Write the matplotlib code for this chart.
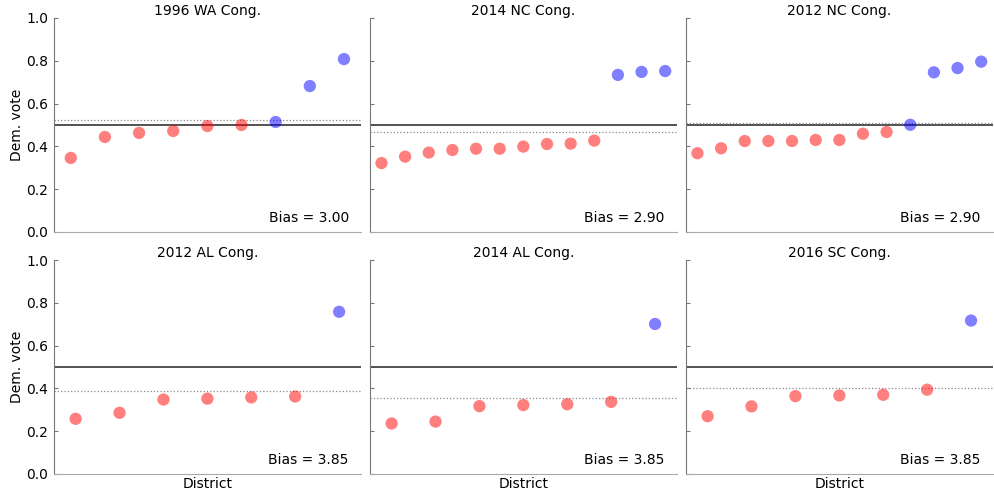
import numpy as np
import matplotlib
matplotlib.use("Agg")
import matplotlib.pyplot as plt

# Democratic vote share by district, sorted, for each election
titles = ["1996 WA Cong.", "2014 NC Cong.", "2012 NC Cong.",
          "2012 AL Cong.", "2014 AL Cong.", "2016 SC Cong."]

wa_1996 = [0.346, 0.444, 0.463, 0.472, 0.495, 0.500, 0.514, 0.682, 0.808]
nc_2014 = [0.322, 0.352, 0.371, 0.383, 0.389, 0.389, 0.399, 0.411, 0.413,
           0.427, 0.734, 0.748, 0.752]
nc_2012 = [0.368, 0.391, 0.425, 0.425, 0.425, 0.430, 0.430, 0.459, 0.467,
           0.501, 0.746, 0.766, 0.796]
al_2012 = [0.258, 0.286, 0.348, 0.352, 0.358, 0.362, 0.758]
al_2014 = [0.236, 0.245, 0.317, 0.322, 0.326, 0.337, 0.701]
sc_2016 = [0.270, 0.316, 0.364, 0.367, 0.370, 0.394, 0.717]

biases = [3.00, 2.90, 2.90, 3.85, 3.85, 3.85]

all_votes = [wa_1996, nc_2014, nc_2012, al_2012, al_2014, sc_2016]

plt.rcParams['font.family'] = ['DejaVu Sans']
plt.rcParams['font.size'] = 10

fig, axes = plt.subplots(2, 3, figsize=(9.94, 4.94), dpi=100, sharey=True)
fig.subplots_adjust(left=0.054, right=0.999, top=0.9636, bottom=0.0405,
                    wspace=0.028, hspace=0.131)

for i, ax in enumerate(axes.flat):
    votes = np.array(all_votes[i])
    x = np.arange(1, len(votes) + 1)
    cols = np.where(votes > 0.5, 'b', 'r')
    ax.scatter(x, votes, c=cols, s=78, alpha=0.5, edgecolors='none', zorder=3)

    ax.axhline(0.5, color='#444444', lw=1.3, zorder=2)
    ax.axhline(votes.mean(), color='#888888', lw=0.9, ls=':', zorder=2)

    ax.set_xlim(0.5, len(votes) + 0.5)
    ax.set_ylim(0, 1)
    ax.set_yticks([0, 0.2, 0.4, 0.6, 0.8, 1.0])
    ax.set_xticks([])
    ax.set_title(titles[i], fontsize=10, pad=2)
    ax.text(0.96, 0.048, 'Bias = %.2f' % biases[i], transform=ax.transAxes,
            ha='right', va='baseline', fontsize=10)

    ax.spines['top'].set_visible(False)
    ax.spines['right'].set_visible(False)
    ax.spines['left'].set_color('#777777')
    ax.spines['bottom'].set_color('#aaaaaa')
    ax.tick_params(axis='y', direction='in', length=3, color='#777777',
                   labelsize=10, pad=4)

    if i % 3 == 0:
        ax.set_ylabel('Dem. vote', fontsize=10, labelpad=1.5)
    if i >= 3:
        ax.set_xlabel('District', fontsize=10, labelpad=2)

fig.savefig("out.png", dpi=100)
